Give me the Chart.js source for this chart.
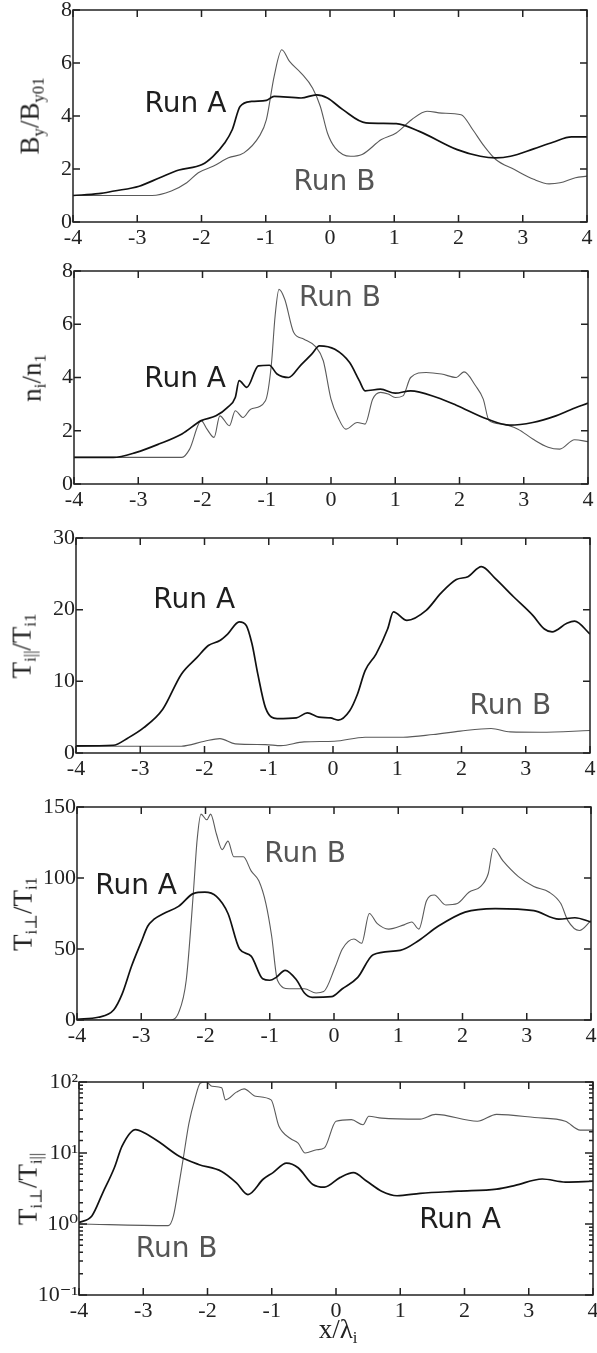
<!DOCTYPE html>
<html>
<head>
<meta charset="utf-8">
<script src="https://cdn.jsdelivr.net/npm/chart.js@4.4.0/dist/chart.umd.min.js"></script>
<style>
  body { margin: 0; background: #fff; width: 597px; height: 1353px; position: relative; overflow: hidden; }
  .panel { position: absolute; left: 0; width: 597px; }
  .ttl { position: absolute; font-family: "Liberation Serif", "DejaVu Serif", serif; font-size: 27px; color: #222;
         white-space: nowrap; transform: translate(-50%, -50%) rotate(-90deg); line-height: 1; }
  .xttl { position: absolute; font-family: "Liberation Serif", "DejaVu Serif", serif; font-size: 27px; color: #222;
          white-space: nowrap; transform: translate(-50%, -50%); line-height: 1; }
  sub { font-size: 62%; vertical-align: -0.3em; }
</style>
</head>
<body>
<div id="page"></div>
<script>
// ---- data (x in units of lambda_i) ----
// panel 1: By/By01
const byAx = [-4, -3.6, -3.36, -2.97, -2.65, -2.35, -1.99, -1.82, -1.64, -1.52, -1.4, -1.22, -0.99, -0.87, -0.45, -0.21, -0.04, 0.2, 0.56, 1.03, 1.39, 1.98, 2.34, 2.58, 2.81, 3.17, 3.47, 3.76, 4];
const byAy = [1.0, 1.07, 1.17, 1.35, 1.67, 1.96, 2.17, 2.48, 2.98, 3.49, 4.36, 4.55, 4.59, 4.74, 4.68, 4.8, 4.68, 4.24, 3.74, 3.71, 3.42, 2.73, 2.48, 2.42, 2.48, 2.76, 3.01, 3.21, 3.21];
const byBx = [-4, -2.77, -2.47, -2.23, -2.05, -1.82, -1.58, -1.34, -1.1, -0.99, -0.87, -0.75, -0.63, -0.45, -0.27, -0.15, -0.04, 0.08, 0.32, 0.5, 0.8, 1.03, 1.27, 1.51, 1.74, 2.04, 2.22, 2.4, 2.58, 2.87, 3.17, 3.41, 3.58, 3.82, 4];
const byBy = [1.0, 1.0, 1.17, 1.48, 1.86, 2.1, 2.42, 2.61, 3.24, 3.86, 5.49, 6.5, 6.06, 5.62, 5.05, 4.36, 3.36, 2.8, 2.48, 2.55, 3.11, 3.36, 3.86, 4.18, 4.11, 4.05, 3.49, 2.86, 2.36, 1.98, 1.61, 1.44, 1.48, 1.67, 1.73];

// panel 2: ni/n1
const nAx = [-4, -3.39, -3.03, -2.68, -2.32, -2.02, -1.79, -1.61, -1.49, -1.43, -1.31, -1.13, -0.96, -0.84, -0.66, -0.48, -0.3, -0.18, 0.06, 0.29, 0.44, 0.53, 0.77, 1.0, 1.24, 1.65, 1.95, 2.43, 2.78, 3.14, 3.5, 3.73, 4];
const nAy = [1.0, 1.0, 1.19, 1.5, 1.88, 2.38, 2.56, 2.88, 3.25, 3.88, 3.63, 4.44, 4.46, 4.13, 4.0, 4.44, 4.88, 5.19, 5.06, 4.56, 3.88, 3.5, 3.56, 3.41, 3.5, 3.25, 2.96, 2.44, 2.21, 2.31, 2.56, 2.79, 3.04];
const nBx = [-4, -2.32, -2.2, -2.02, -1.93, -1.82, -1.73, -1.58, -1.49, -1.37, -1.25, -1.02, -0.93, -0.87, -0.81, -0.72, -0.58, -0.42, -0.24, -0.12, 0.0, 0.11, 0.23, 0.41, 0.53, 0.65, 0.77, 0.89, 1.0, 1.12, 1.24, 1.48, 1.72, 1.95, 2.07, 2.25, 2.37, 2.46, 2.67, 2.91, 3.14, 3.38, 3.56, 3.79, 4];
const nBy = [1.0, 1.0, 1.31, 2.38, 2.06, 1.75, 2.56, 2.19, 2.75, 2.5, 2.81, 3.13, 4.44, 6.31, 7.31, 6.94, 5.69, 5.44, 5.16, 4.63, 3.19, 2.5, 2.06, 2.31, 2.25, 3.19, 3.44, 3.38, 3.25, 3.31, 4.0, 4.19, 4.13, 4.0, 4.21, 3.69, 3.19, 2.38, 2.25, 2.06, 1.69, 1.38, 1.31, 1.66, 1.59];

// panel 3: Ti||/Ti1
const tpAx = [-4, -3.42, -3.19, -2.95, -2.65, -2.36, -2.12, -1.94, -1.76, -1.64, -1.46, -1.35, -1.26, -1.17, -1.05, -0.87, -0.57, -0.4, -0.22, -0.04, 0.08, 0.26, 0.38, 0.5, 0.67, 0.85, 0.94, 1.15, 1.45, 1.68, 1.92, 2.1, 2.31, 2.52, 2.81, 3.11, 3.29, 3.41, 3.64, 3.76, 4];
const tpAy = [1.0, 1.08, 2.1, 3.5, 6.1, 11.0, 13.3, 15.0, 15.7, 16.6, 18.3, 17.8, 15.2, 11.0, 6.3, 4.8, 4.9, 5.6, 5.0, 4.9, 4.6, 5.9, 8.2, 11.5, 13.8, 17.3, 19.7, 18.5, 19.9, 22.3, 24.2, 24.6, 26.0, 24.4, 21.8, 19.2, 17.3, 16.9, 18.1, 18.4, 16.6];
const tpBx = [-4, -2.36, -2.0, -1.76, -1.52, -1.05, -0.81, -0.45, 0.02, 0.5, 1.09, 1.56, 1.98, 2.46, 2.76, 3.23, 4];
const tpBy = [0.95, 0.95, 1.64, 2.0, 1.27, 1.17, 1.03, 1.55, 1.64, 2.2, 2.2, 2.58, 3.05, 3.42, 2.95, 2.9, 3.14];

// panel 4: Ti_perp/Ti1
const tqAx = [-4, -3.67, -3.43, -3.3, -3.15, -3.0, -2.9, -2.8, -2.65, -2.42, -2.19, -2.01, -1.83, -1.65, -1.47, -1.29, -1.11, -1.0, -0.9, -0.76, -0.58, -0.46, -0.34, -0.04, 0.13, 0.37, 0.61, 1.03, 1.32, 1.62, 2.04, 2.51, 3.11, 3.5, 3.75, 4];
const tqAy = [0.5, 1.9, 7, 18, 38, 55, 66, 71, 75, 80, 89, 90, 87, 75, 50, 45, 29, 28, 30, 35, 28, 19, 16, 16.4, 22, 30, 46, 49, 56, 66, 76, 78.5, 77, 71, 72, 69];
const tqBx = [-4, -2.54, -2.42, -2.3, -2.19, -2.13, -2.07, -1.98, -1.92, -1.83, -1.74, -1.65, -1.56, -1.41, -1.29, -1.17, -1.06, -0.97, -0.88, -0.7, -0.46, -0.28, -0.16, 0.02, 0.13, 0.31, 0.43, 0.55, 0.67, 0.85, 1.09, 1.21, 1.32, 1.44, 1.56, 1.74, 1.92, 2.1, 2.28, 2.4, 2.48, 2.63, 2.87, 3.11, 3.35, 3.53, 3.64, 3.82, 4];
const tqBy = [0, 0, 5, 28, 89, 127, 145, 141, 145, 131, 120, 126, 115, 115, 105, 98, 82, 59, 28, 22, 22, 19, 20, 37.5, 50, 57, 54, 75, 68, 64, 67, 69, 64, 84, 88, 81, 82, 90, 94, 103, 121, 112, 101, 94, 90, 82, 70, 63, 70];

// panel 5: Ti_perp/Ti|| (log)
const anAx = [-4, -3.8, -3.63, -3.45, -3.33, -3.12, -2.97, -2.73, -2.44, -2.14, -1.78, -1.55, -1.37, -1.13, -0.98, -0.77, -0.59, -0.36, -0.18, 0.06, 0.27, 0.48, 0.71, 0.95, 1.31, 1.9, 2.5, 2.79, 3.21, 3.57, 4];
const anAy = [1.05, 1.3, 2.75, 6.2, 12.5, 21.4, 19, 13.8, 9, 6.9, 5.5, 3.8, 2.6, 4.3, 5.3, 7.2, 6.2, 3.6, 3.3, 4.5, 5.3, 4.0, 2.9, 2.5, 2.7, 2.9, 3.1, 3.5, 4.3, 3.9, 4.0];
const anBx = [-4, -2.61, -2.53, -2.44, -2.38, -2.29, -2.2, -2.11, -2.02, -1.93, -1.78, -1.72, -1.55, -1.43, -1.25, -1.01, -0.89, -0.71, -0.59, -0.48, -0.3, -0.18, 0.0, 0.24, 0.42, 0.51, 0.71, 1.31, 1.55, 2.2, 2.5, 3.09, 3.57, 3.8, 4];
const anBy = [1.0, 0.95, 1.3, 3.8, 8.1, 26, 56, 97, 100, 87, 83, 56, 72, 80, 63, 56, 24, 16, 13.8, 10, 11.1, 11.8, 28, 29.5, 25, 33, 31, 30, 35, 28, 35, 31.6, 28, 21, 21];

const xTicks = [-4, -3, -2, -1, 0, 1, 2, 3, 4];
const logTickText = { '100': '10²', '10': '10¹', '1': '10⁰', '0.1': '10⁻¹' };

// ---- layout of the five panels (page pixels) ----
const panels = [
  { top: 10,   bottom: 222,  left: 73, xA: byAx, yA: byAy, xB: byBx, yB: byBy, min: 0, max: 8, step: 2,
    title: 'B<sub>y</sub>/B<sub>y01</sub>', tx: 32,
    labels: [{ text: 'Run A', x: -2.25, y: 4.43, c: '#1e1e1e' }, { text: 'Run B', x: 0.07, y: 1.5, c: '#555' }] },
  { top: 271,  bottom: 484,  left: 74, xA: nAx, yA: nAy, xB: nBx, yB: nBy, min: 0, max: 8, step: 2,
    title: 'n<sub>i</sub>/n<sub>1</sub>', tx: 34,
    labels: [{ text: 'Run A', x: -2.27, y: 3.91, c: '#1e1e1e' }, { text: 'Run B', x: 0.14, y: 6.96, c: '#555' }] },
  { top: 538,  bottom: 753,  left: 76, xA: tpAx, yA: tpAy, xB: tpBx, yB: tpBy, min: 0, max: 30, step: 10,
    title: 'T<sub>i||</sub>/T<sub>i1</sub>', tx: 24,
    labels: [{ text: 'Run A', x: -2.16, y: 21.2, c: '#1e1e1e' }, { text: 'Run B', x: 2.76, y: 6.5, c: '#555' }] },
  { top: 807,  bottom: 1020, left: 77, xA: tqAx, yA: tqAy, xB: tqBx, yB: tqBy, min: 0, max: 150, step: 50,
    title: 'T<sub>i⊥</sub>/T<sub>i1</sub>', tx: 25,
    labels: [{ text: 'Run A', x: -3.08, y: 93.7, c: '#1e1e1e' }, { text: 'Run B', x: -0.45, y: 116.7, c: '#555' }] },
  { top: 1082, bottom: 1295, left: 79, xA: anAx, yA: anAy, xB: anBx, yB: anBy, min: 0.1, max: 100, log: true,
    title: 'T<sub>i⊥</sub>/T<sub>i||</sub>', tx: 30,
    labels: [{ text: 'Run A', x: 1.93, y: 1.1, c: '#1e1e1e' }, { text: 'Run B', x: -2.48, y: 0.44, c: '#555' }] },
];

const PLOT_W = 514, PAD_T = 14, XAX_H = 30;
const serif = '"Liberation Serif", "DejaVu Serif", serif';

const pts = (xs, ys) => xs.map((v, i) => ({ x: v, y: ys[i] }));

// box frame with inward ticks on all four sides, plus the run labels
const framePlugin = {
  id: 'frame',
  afterDatasetsDraw(chart, args, opts) {
    const { ctx, chartArea: a, scales: { x, y } } = chart;
    ctx.save();
    ctx.strokeStyle = '#222';
    ctx.lineWidth = 1.5;
    ctx.strokeRect(a.left, a.top, a.right - a.left, a.bottom - a.top);
    ctx.beginPath();
    x.ticks.forEach(t => {
      const px = x.getPixelForValue(t.value);
      ctx.moveTo(px, a.bottom); ctx.lineTo(px, a.bottom - 7);
      ctx.moveTo(px, a.top); ctx.lineTo(px, a.top + 7);
    });
    y.ticks.forEach(t => {
      const py = y.getPixelForValue(t.value);
      let len = 7;
      if (y.type === 'logarithmic') {
        const e = Math.log10(t.value);
        len = Math.abs(e - Math.round(e)) < 1e-6 ? 8 : 4;
      }
      ctx.moveTo(a.left, py); ctx.lineTo(a.left + len, py);
      ctx.moveTo(a.right, py); ctx.lineTo(a.right - len, py);
    });
    ctx.stroke();
    ctx.font = '28px "DejaVu Sans", sans-serif';
    ctx.textAlign = 'center';
    ctx.textBaseline = 'middle';
    (opts.labels || []).forEach(l => {
      ctx.fillStyle = l.c;
      ctx.fillText(l.text, x.getPixelForValue(l.x), y.getPixelForValue(l.y));
    });
    ctx.restore();
  }
};

const page = document.getElementById('page');

panels.forEach((p, i) => {
  const h = (p.bottom - p.top) + PAD_T + XAX_H;
  const div = document.createElement('div');
  div.className = 'panel';
  div.style.top = (p.top - PAD_T) + 'px';
  div.style.height = h + 'px';
  const cv = document.createElement('canvas');
  cv.width = 597; cv.height = h;
  div.appendChild(cv);
  page.appendChild(div);

  const t = document.createElement('div');
  t.className = 'ttl';
  t.innerHTML = p.title;
  t.style.left = p.tx + 'px';
  t.style.top = ((p.top + p.bottom) / 2) + 'px';
  page.appendChild(t);

  const yScale = p.log ? {
    type: 'logarithmic', min: p.min, max: p.max,
    ticks: { autoSkip: false, callback: v => logTickText[String(v)] || '' }
  } : {
    type: 'linear', min: p.min, max: p.max,
    ticks: { stepSize: p.step }
  };
  Object.assign(yScale.ticks, { color: '#222', padding: 1, font: { family: serif, size: 22 } });
  yScale.grid = { display: false, drawTicks: false };
  yScale.border = { display: false };
  yScale.afterFit = s => { s.width = p.left; s.paddingTop = 0; s.paddingBottom = 0; };

  new Chart(cv, {
    type: 'line',
    data: {
      datasets: [
        { label: 'Run A', data: pts(p.xA, p.yA), borderColor: '#111', borderWidth: 1.7, cubicInterpolationMode: 'monotone' },
        { label: 'Run B', data: pts(p.xB, p.yB), borderColor: '#5a5a5a', borderWidth: 1.1, cubicInterpolationMode: 'monotone' }
      ]
    },
    options: {
      responsive: false, animation: false, devicePixelRatio: 1,
      layout: { padding: { top: PAD_T, right: 597 - (p.left + PLOT_W), left: 0, bottom: 0 } },
      elements: { point: { radius: 0 } },
      plugins: { legend: { display: false }, tooltip: { enabled: false }, frame: { labels: p.labels } },
      scales: {
        x: {
          type: 'linear', min: -4, max: 4,
          afterBuildTicks: s => { s.ticks = xTicks.map(v => ({ value: v })); },
          ticks: { color: '#222', padding: 3, maxRotation: 0, autoSkip: false, font: { family: serif, size: 22 } },
          grid: { display: false, drawTicks: false },
          border: { display: false },
          afterFit: s => { s.height = XAX_H; s.paddingLeft = 0; s.paddingRight = 0; }
        },
        y: yScale
      }
    },
    plugins: [framePlugin]
  });
});

const xt = document.createElement('div');
xt.className = 'xttl';
xt.innerHTML = 'x/λ<sub>i</sub>';
xt.style.left = '338px';
xt.style.top = '1331px';
page.appendChild(xt);
</script>
</body>
</html>
